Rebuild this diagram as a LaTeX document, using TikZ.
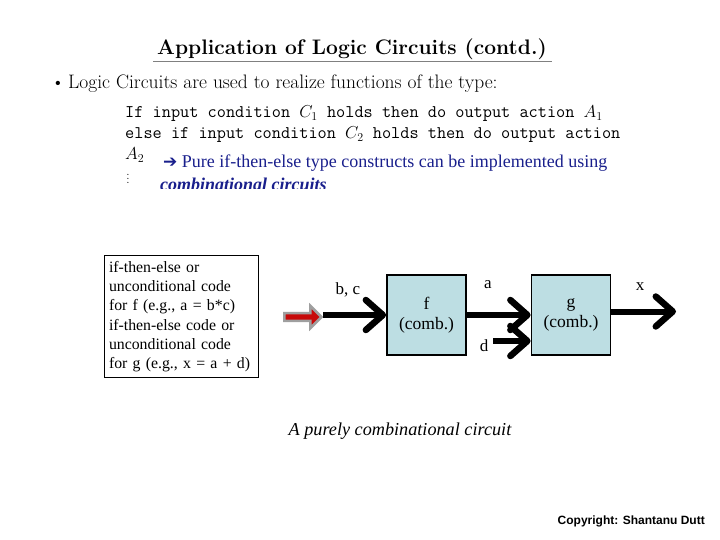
\documentclass[tikz,border=0pt]{standalone}
\usepackage{fontspec}
\usetikzlibrary{arrows.meta, positioning, shapes.arrows}
\newfontfamily\timesfont{Liberation Serif}
\newfontfamily\arialfont{Liberation Sans}
\newfontfamily\simbolo{DejaVu Sans}
\definecolor{CajaAzul}{rgb}{0.74, 0.87, 0.89}
\definecolor{TextoAzul}{rgb}{0.1, 0.12, 0.55}
\definecolor{FlechaRoja}{rgb}{0.78, 0.04, 0.04}

\begin{document}
\begin{tikzpicture}[
    x=1pt, y=-1pt,
    bloque/.style={draw, line width=1.8pt, fill=CajaAzul, minimum width=79pt,
        minimum height=80pt, inner sep=0pt, align=center,
        font=\timesfont\fontsize{17.5}{20}\selectfont},
    flecha/.style={line width=6pt,
        -{Straight Barb[length=17pt, width=30pt, line width=6.5pt, round]}},
    etiqueta/.style={font=\timesfont\fontsize{17}{20}\selectfont, inner sep=0pt},
    codigo/.style={anchor=base west, inner sep=0pt, font=\ttfamily\fontsize{17.8}{20}\selectfont},
]
\useasboundingbox (0,0) rectangle (720,540);

% Encabezado
\node[font=\bfseries\fontsize{21}{24}\selectfont, anchor=base] (titulo) at (352,55)
    {Application of Logic Circuits (contd.)};
\draw[gray, line width=1pt] (153,62) -- (552,62);

\node[anchor=base, inner sep=0pt, font=\fontsize{19}{22}\selectfont] (vineta) at (58,89) {\textbullet};
\node[anchor=base west, inner sep=0pt, font=\fontsize{19.5}{22}\selectfont] (intro) at (68,89)
    {Logic Circuits are used to realize functions of the type:};

\node[codigo] (linea1) at (125,118) {If input condition $C_1$ holds then do output action $A_1$};
\node[codigo] (linea2) at (125,139) {else if input condition $C_2$ holds then do output action};
\node[codigo] (linea3) at (125,160) {$A_2$};
\node[anchor=base, inner sep=0pt, font=\fontsize{12}{14}\selectfont] (puntos) at (128,184) {$\vdots$};

% Nota azul (la segunda fila queda cortada)
\node[anchor=base west, inner sep=0pt, text=TextoAzul, font=\timesfont\fontsize{18}{20}\selectfont]
    (nota) at (163,168) {{\simbolo\bfseries\fontsize{17}{16}\selectfont ➔} Pure if-then-else type constructs can be implemented using};
\begin{scope}
    \clip (150,170) rectangle (400,188.5);
    \node[anchor=base west, inner sep=0pt, text=TextoAzul, font=\timesfont\bfseries\itshape\fontsize{18}{20}\selectfont]
        (nota2) at (160,191) {combinational circuits};
\end{scope}

% Caja con el texto del programa
\node[draw, line width=1pt, text width=144pt, inner sep=5pt, align=left,
    font=\timesfont\fontsize{15.8}{19.3}\selectfont] (programa) at (181,316.5)
    {if-then-else or\\ unconditional code\\ for f (e.g., a = b*c)\\
     if-then-else code or\\ unconditional code\\ for g (e.g., x = a + d)};

\node[single arrow, fill=FlechaRoja, draw=gray!75, line width=2.5pt, minimum height=37pt,
    minimum width=22pt, single arrow head extend=4pt, inner sep=1pt] (rojo) at (301,317) {};

% Circuito combinacional
\node[bloque] (f) at (426.5,315) {f\\(comb.)};
\node[bloque] (g) at (571,315) {g\\(comb.)};

\coordinate (entrada) at (323,315);
\coordinate (din) at (493,341);
\coordinate (salida) at (676,311.5);

\draw[flecha] (entrada) -- (f.west);
\draw[flecha] (f.east) -- (g.west);
\draw[flecha] (din) -- (g.west |- din);
\draw[flecha] (g.east |- salida) -- (salida);

\node[etiqueta] (bc) at (348,290) {b, c};
\node[etiqueta] (a) at (488,285) {a};
\node[etiqueta] (d) at (484,346) {d};
\node[etiqueta] (x) at (640,287) {x};

\node[font=\timesfont\itshape\fontsize{18.2}{20}\selectfont] (pie) at (400,431)
    {A purely combinational circuit};
\node[font=\arialfont\bfseries\fontsize{12}{14}\selectfont, anchor=east, inner sep=0pt] (autor) at (705,521)
    {Copyright: Shantanu Dutt};
\end{tikzpicture}
\end{document}
